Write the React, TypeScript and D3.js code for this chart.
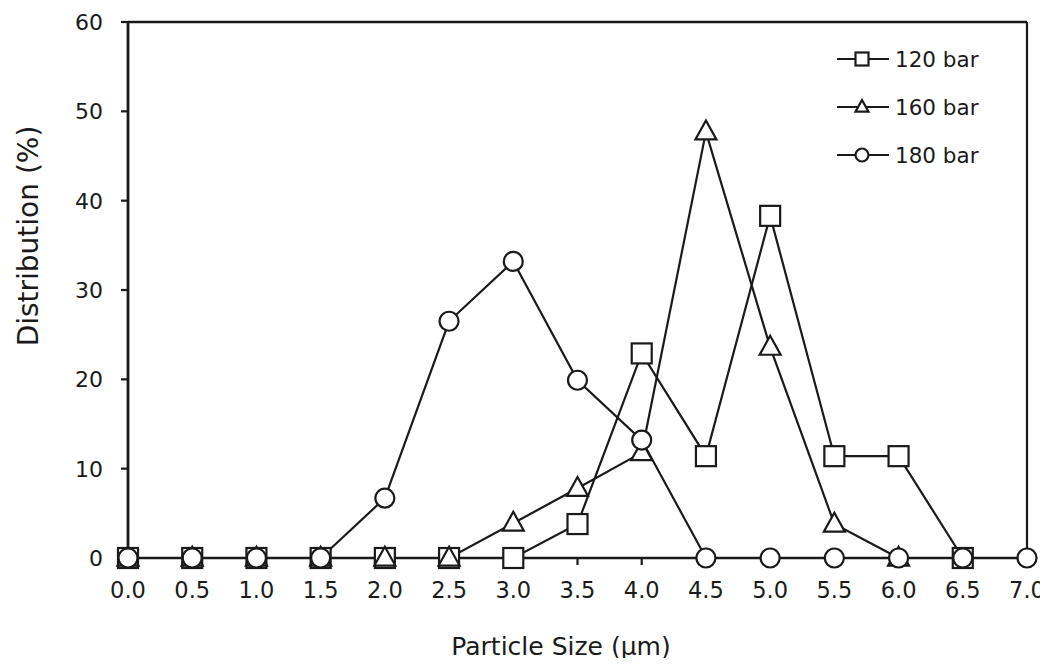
import React from "react";
import * as d3 from "d3";

const xValues = [0, 0.5, 1.0, 1.5, 2.0, 2.5, 3.0, 3.5, 4.0, 4.5, 5.0, 5.5, 6.0, 6.5, 7.0];
const bar120 = [0, 0, 0, 0, 0, 0, 0, 3.8, 22.9, 11.4, 38.3, 11.4, 11.4, 0, null];
const bar160 = [0, 0, 0, 0, 0, 0, 3.9, 7.8, 11.8, 47.7, 23.6, 3.8, 0, null, null];
const bar180 = [0, 0, 0, 0, 6.7, 26.5, 33.2, 19.9, 13.2, 0, 0, 0, 0, 0, 0];
const seriesNames = ["120 bar", "160 bar", "180 bar"];
const xTicks = [0, 0.5, 1.0, 1.5, 2.0, 2.5, 3.0, 3.5, 4.0, 4.5, 5.0, 5.5, 6.0, 6.5, 7.0];
const yTicks = [0, 10, 20, 30, 40, 50, 60];

const W = 1048, H = 666;
const M = { left: 128, right: 1027, top: 22, bottom: 558 };
const FONT = "'DejaVu Sans', Verdana, sans-serif";
const INK = "#1a1a1a";

function Marker({ type, x, y, s }: { type: string; x: number; y: number; s: number }) {
  if (type === "square")
    return <rect x={x - s / 2} y={y - s / 2} width={s} height={s} fill="#fff" stroke={INK} strokeWidth={2.2} />;
  if (type === "triangle") {
    const h = s * 0.9;
    const pts = `${x},${y - h * 0.6} ${x - s / 2},${y + h * 0.4} ${x + s / 2},${y + h * 0.4}`;
    return <polygon points={pts} fill="#fff" stroke={INK} strokeWidth={2.2} strokeLinejoin="miter" />;
  }
  return <circle cx={x} cy={y} r={s / 2} fill="#fff" stroke={INK} strokeWidth={2.2} />;
}

export default function App() {
  const x = d3.scaleLinear().domain([0, 7]).range([M.left, M.right]);
  const y = d3.scaleLinear().domain([0, 60]).range([M.bottom, M.top]);
  const series = [
    { name: seriesNames[0], vals: bar120, type: "square", size: 20 },
    { name: seriesNames[1], vals: bar160, type: "triangle", size: 21 },
    { name: seriesNames[2], vals: bar180, type: "circle", size: 19 },
  ];
  const line = d3
    .line<[number, number | null]>()
    .defined((d) => d[1] !== null)
    .x((d) => x(d[0]))
    .y((d) => y(d[1] as number));

  return (
    <svg width={W} height={H} style={{ display: "block", margin: "-8px" }} fontFamily={FONT}>
      <rect width={W} height={H} fill="#fff" />
      {/* frame */}
      <line x1={M.left} x2={M.right} y1={M.top} y2={M.top} stroke={INK} strokeWidth={2.5} />
      <line x1={M.right} x2={M.right} y1={M.top} y2={M.bottom} stroke={INK} strokeWidth={2.2} />
      <line x1={M.left} x2={M.left} y1={M.top} y2={M.bottom} stroke={INK} strokeWidth={2.8} />
      <line x1={M.left} x2={M.right} y1={M.bottom} y2={M.bottom} stroke={INK} strokeWidth={2.5} />
      {/* y ticks */}
      {yTicks.map((t) => (
        <g key={"y" + t}>
          <line x1={M.left - 7} x2={M.left} y1={y(t)} y2={y(t)} stroke={INK} strokeWidth={2.2} />
          <text x={M.left - 25} y={y(t)} dy="0.36em" textAnchor="end" fontSize={22} fill={INK}>
            {t}
          </text>
        </g>
      ))}
      {/* x ticks */}
      {xTicks.map((t) => (
        <g key={"x" + t}>
          <line x1={x(t)} x2={x(t)} y1={M.bottom} y2={M.bottom + 7} stroke={INK} strokeWidth={2.2} />
          <text x={x(t)} y={598} textAnchor="middle" fontSize={22.5} fill={INK}>
            {d3.format(".1f")(t)}
          </text>
        </g>
      ))}
      <text x={561} y={655} textAnchor="middle" fontSize={25} fill={INK}>
        Particle Size (μm)
      </text>
      <text transform={`translate(38, 236) rotate(-90)`} textAnchor="middle" fontSize={28} fill={INK}>
        Distribution (%)
      </text>
      {/* lines */}
      {series.map((s) => (
        <path
          key={"l" + s.name}
          d={line(xValues.map((v, i) => [v, s.vals[i]]) as [number, number | null][]) || ""}
          fill="none"
          stroke={INK}
          strokeWidth={2.2}
        />
      ))}
      {/* markers */}
      {series.map((s) => (
        <g key={"m" + s.name}>
          {xValues.map((v, i) =>
            s.vals[i] === null ? null : (
              <Marker key={i} type={s.type} x={x(v)} y={y(s.vals[i] as number)} s={s.size} />
            )
          )}
        </g>
      ))}
      {/* legend */}
      {series.map((s, i) => {
        const ly = 59 + i * 48;
        return (
          <g key={"lg" + s.name}>
            <line x1={837} x2={889} y1={ly} y2={ly} stroke={INK} strokeWidth={2.2} />
            <Marker type={s.type} x={862} y={ly} s={13} />
            <text x={895} y={ly} dy="0.36em" fontSize={21.5} fill={INK}>
              {s.name}
            </text>
          </g>
        );
      })}
    </svg>
  );
}
